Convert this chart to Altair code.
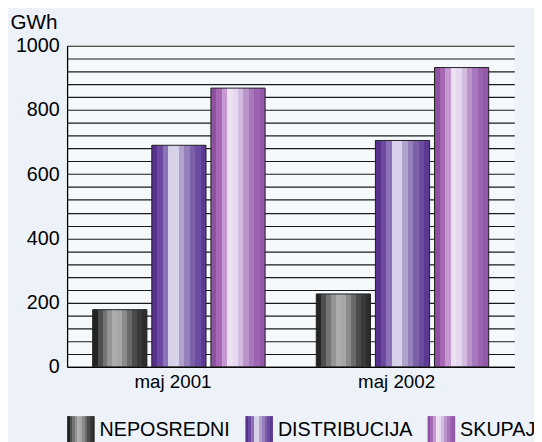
import altair as alt
import pandas as pd

periods = ["maj 2001", "maj 2002"]
series = ["NEPOSREDNI", "DISTRIBUCIJA", "SKUPAJ"]
neposredni = [178, 227]
distribucija = [690, 705]
skupaj = [868, 932]

stripes = {
    "NEPOSREDNI": ["#242424", "#4e4e4e", "#747474", "#949494", "#adadad", "#a6a6a6",
                   "#8a8a8a", "#6a6a6a", "#4c4c4c", "#3a3a3a", "#2c2c2c"],
    "DISTRIBUCIJA": ["#58308e", "#6c48a0", "#8c70b8", "#d6d0e8", "#d8d2ea", "#b0a2cc",
                     "#9680bc", "#7c60ac", "#6a4ca0", "#5c3a94"],
    "SKUPAJ": ["#8e50a0", "#a668b4", "#c49ad0", "#ece0f2", "#e6d8ee", "#d4bce0",
               "#bc94cc", "#a878bc", "#9c64b0", "#9458a8"],
}


def gradient_expr(cols):
    n = len(cols)
    parts = []
    for i, c in enumerate(cols):
        a = i / n
        b = (i + 1) / n
        parts.append("{offset: %.4f, color: '%s'}" % (a, c))
        parts.append("{offset: %.4f, color: '%s'}" % (b, c))
    return "{gradient: 'linear', x1: 0, y1: 0, x2: 1, y2: 0, stops: [" + ", ".join(parts) + "]}"


rows = []
for i, p in enumerate(periods):
    rows.append({"period": p, "series": "NEPOSREDNI", "value": neposredni[i]})
    rows.append({"period": p, "series": "DISTRIBUCIJA", "value": distribucija[i]})
    rows.append({"period": p, "series": "SKUPAJ", "value": skupaj[i]})
df = pd.DataFrame(rows)

FONT = "Liberation Sans"

chart = alt.Chart(df).mark_bar(stroke="#1e1e1e", strokeWidth=1).encode(
    x=alt.X("period:N", sort=periods, title=None,
            scale=alt.Scale(paddingInner=0, paddingOuter=0),
            axis=alt.Axis(labelAngle=0, ticks=False, labelFontSize=19, labelPadding=6,
                          labelOffset=-6,
                          labelColor="#000000", domainColor="#000000", domainWidth=1.3,
                          labelFont=FONT)),
    xOffset=alt.XOffset("series:N", sort=series,
                        scale=alt.Scale(domain=series, paddingInner=0.083, paddingOuter=0.433)),
    y=alt.Y("value:Q", scale=alt.Scale(domain=[0, 1000], nice=False),
            axis=alt.Axis(values=list(range(0, 1001, 40)), format="d",
                          labelExpr="datum.value % 200 === 0 ? datum.label : ''",
                          title="GWh", titleAngle=0, titleAlign="left", titleBaseline="alphabetic",
                          titleX=-58, titleY=-17, titleFontSize=21, titleFontWeight="normal",
                          titleFont=FONT, titleColor="#000000",
                          labelFontSize=20, labelFont=FONT, labelColor="#000000",
                          labelPadding=8, ticks=False, tickSize=0,
                          grid=True, gridColor="#1a1a1a", gridWidth=1.2,
                          domainColor="#000000", domainWidth=1.3)),
    color=alt.Color("series:N", sort=series,
                    scale=alt.Scale(domain=series,
                                    range=[{"expr": gradient_expr(stripes[s])} for s in series]),
                    legend=alt.Legend(orient="none", legendX=0, legendY=376, direction="horizontal",
                                      columns=3, title=None, symbolType="square", symbolSize=784,
                                      symbolStrokeWidth=0, labelFontSize=20, labelFont=FONT,
                                      labelColor="#000000", labelOffset=5, columnPadding=15,
                                      padding=0, labelLimit=300)),
).properties(
    width=454,
    height=326,
    autosize=alt.AutoSizeParams(type="none"),
    padding={"left": 60, "top": 35, "right": 20, "bottom": 73},
    background="#ecf2f8",
).configure_view(
    fill="#f6f9fc",
    strokeWidth=0,
)

chart.save("out.html", embed_options={"renderer": "svg", "actions": False})
